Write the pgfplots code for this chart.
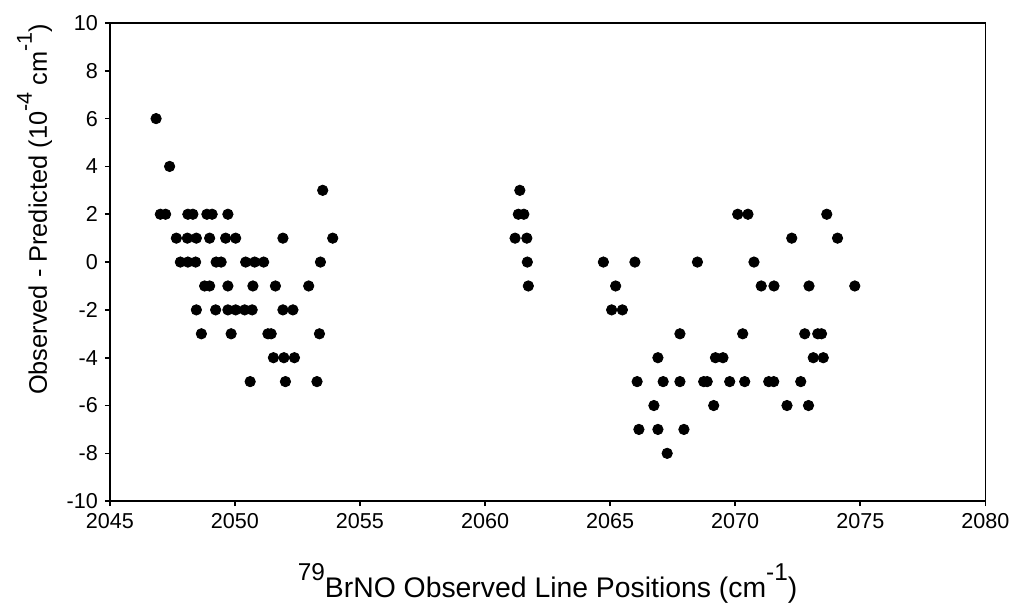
\documentclass[border=0pt]{standalone}
\usepackage{pgfplots}
\pgfplotsset{compat=1.18}
\usepackage{fontspec}
\setmainfont{Liberation Sans}
\newcommand{\supx}[1]{\raisebox{8.3pt}{\fontsize{12.2}{14}\selectfont #1}}
\newcommand{\supy}[1]{\raisebox{7.5pt}{\fontsize{10.8}{13}\selectfont #1}}
\begin{document}
\begin{tikzpicture}
\begin{axis}[
  width=438.5pt, height=239.5pt, scale only axis,
  xmin=2045, xmax=2080, ymin=-10, ymax=10,
  xtick={2045,2050,...,2080}, ytick={-10,-8,...,10},
  tick align=outside, xtick pos=left, ytick pos=left,
  major tick length=2.5pt,
  axis line style={line width=0.8pt},
  every tick/.style={black, line width=0.8pt},
  tick label style={font=\fontsize{10.8}{13}\selectfont},
  /pgf/number format/assume math mode=true,
  /pgf/number format/1000 sep={},
  xlabel={\supx{79}BrNO Observed Line Positions (cm\supx{-1})},
  ylabel={Observed - Predicted (10\supy{-4} cm\supy{-1})},
  every axis x label/.style={at={([yshift=-48.2pt]axis description cs:0.5,0)}, anchor=base, font=\fontsize{14.2}{16}\selectfont},
  every axis y label/.style={at={([xshift=-31.5pt]axis description cs:0,0.61)}, rotate=90, anchor=base, font=\fontsize{12.7}{15}\selectfont},
]
\addplot[only marks, mark=*, mark size=2.6pt, black] table {
x y
2046.85 6
2047.39 4
2053.51 3
2061.39 3
2047.02 2
2047.23 2
2048.12 2
2048.32 2
2048.88 2
2049.09 2
2049.72 2
2061.33 2
2061.55 2
2070.10 2
2070.51 2
2073.66 2
2047.66 1
2048.10 1
2048.46 1
2048.99 1
2049.63 1
2050.03 1
2051.92 1
2053.91 1
2061.20 1
2061.67 1
2072.26 1
2074.09 1
2047.82 0
2048.12 0
2048.43 0
2049.25 0
2049.45 0
2050.43 0
2050.79 0
2051.15 0
2053.42 0
2061.69 0
2064.73 0
2065.99 0
2068.49 0
2070.75 0
2048.79 -1
2048.99 -1
2049.72 -1
2050.72 -1
2051.62 -1
2052.95 -1
2061.73 -1
2065.22 -1
2071.04 -1
2071.55 -1
2072.95 -1
2074.78 -1
2048.46 -2
2049.23 -2
2049.72 -2
2050.03 -2
2050.39 -2
2050.69 -2
2051.92 -2
2052.32 -2
2065.06 -2
2065.49 -2
2048.66 -3
2049.85 -3
2051.32 -3
2051.45 -3
2053.38 -3
2067.79 -3
2070.30 -3
2072.78 -3
2073.30 -3
2073.45 -3
2051.54 -4
2051.96 -4
2052.38 -4
2066.91 -4
2069.21 -4
2069.51 -4
2073.12 -4
2073.52 -4
2050.61 -5
2052.02 -5
2053.28 -5
2066.08 -5
2067.12 -5
2067.79 -5
2068.74 -5
2068.88 -5
2069.78 -5
2070.38 -5
2071.34 -5
2071.54 -5
2072.62 -5
2066.75 -6
2069.14 -6
2072.07 -6
2072.93 -6
2066.15 -7
2066.91 -7
2067.95 -7
2067.28 -8
};
\end{axis}
\path ([xshift=-55pt,yshift=-51.5pt]current axis.south west) rectangle ([xshift=14.5pt,yshift=11.5pt]current axis.north east);
\end{tikzpicture}
\end{document}
